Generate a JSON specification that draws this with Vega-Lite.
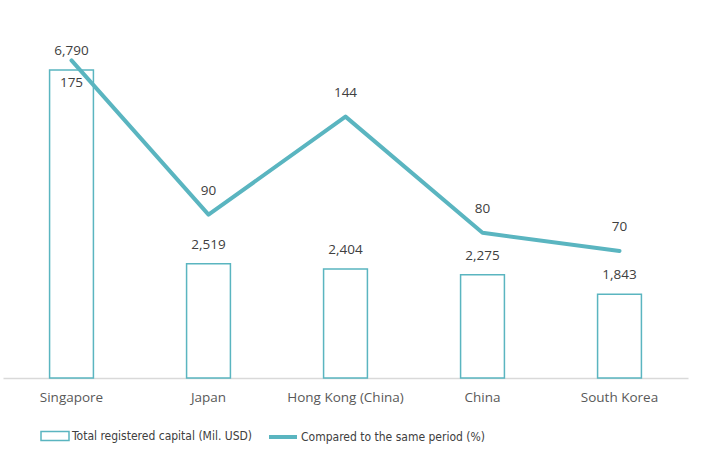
{
  "$schema": "https://vega.github.io/schema/vega-lite/v6.json",
  "width": 685,
  "height": 363,
  "autosize": {"type": "none"},
  "padding": {"left": 3, "top": 15, "right": 13, "bottom": 72},
  "background": "white",
  "config": {
    "view": {"stroke": null},
    "font": "Open Sans",
    "text": {"font": "Open Sans", "fontSize": 13.5, "fill": "#404040"}
  },
  "data": {
    "values": [
      {"country": "Singapore", "capital": 6790, "pct": 175},
      {"country": "Japan", "capital": 2519, "pct": 90},
      {"country": "Hong Kong (China)", "capital": 2404, "pct": 144},
      {"country": "China", "capital": 2275, "pct": 80},
      {"country": "South Korea", "capital": 1843, "pct": 70}
    ]
  },
  "encoding": {
    "x": {
      "field": "country",
      "type": "nominal",
      "sort": null,
      "scale": {"paddingInner": 0.68, "paddingOuter": 0.34},
      "axis": {
        "title": null,
        "labelAngle": 0,
        "ticks": false,
        "domainColor": "#d9d9d9",
        "domainWidth": 1.5,
        "labelColor": "#595959",
        "labelFont": "Open Sans",
        "labelFontSize": 13.5,
        "labelPadding": 12
      }
    }
  },
  "layer": [
    {
      "mark": {"type": "bar", "stroke": "#5ab5c0", "strokeWidth": 1.5},
      "encoding": {
        "y": {"field": "capital", "type": "quantitative", "scale": {"domain": [0, 8000]}, "axis": null},
        "fill": {
          "datum": "Total registered capital (Mil. USD)",
          "scale": {"range": ["white"]},
          "legend": {
            "title": null,
            "orient": "none",
            "legendX": 37,
            "legendY": 406,
            "symbolType": "M-1,-0.32H1V0.32H-1Z",
            "symbolSize": 784,
            "symbolStrokeColor": "#5ab5c0",
            "symbolStrokeWidth": 1.5,
            "labelFont": "DejaVu Sans Condensed",
            "labelFontSize": 12,
            "labelColor": "#404040",
            "labelOffset": 2,
            "labelLimit": 400
          }
        }
      }
    },
    {
      "mark": {"type": "text", "baseline": "middle", "dy": -19},
      "encoding": {
        "y": {"field": "capital", "type": "quantitative", "scale": {"domain": [0, 8000]}, "axis": null},
        "text": {"field": "capital", "type": "quantitative", "format": ","}
      }
    },
    {
      "layer": [
        {
          "mark": {"type": "line", "strokeWidth": 4, "strokeCap": "round", "strokeJoin": "round"},
          "encoding": {
            "y": {"field": "pct", "type": "quantitative", "scale": {"domain": [0, 200]}, "axis": null},
            "stroke": {
              "datum": "Compared to the same period (%)",
              "scale": {"range": ["#5ab5c0"]},
              "legend": {
                "title": null,
                "orient": "none",
                "legendX": 264,
                "legendY": 406,
                "symbolType": "stroke",
                "symbolSize": 784,
                "symbolStrokeWidth": 4,
                "labelFont": "DejaVu Sans Condensed",
                "labelFontSize": 12,
                "labelColor": "#404040",
                "labelOffset": 2,
                "labelLimit": 400
              }
            }
          }
        },
        {
          "transform": [{"filter": "datum.country !== 'Singapore'"}],
          "mark": {"type": "text", "baseline": "middle", "dy": -24},
          "encoding": {
            "y": {"field": "pct", "type": "quantitative", "scale": {"domain": [0, 200]}, "axis": null},
            "text": {"field": "pct", "type": "quantitative"}
          }
        },
        {
          "transform": [{"filter": "datum.country === 'Singapore'"}],
          "mark": {"type": "text", "baseline": "middle", "dy": 23},
          "encoding": {
            "y": {"field": "pct", "type": "quantitative", "scale": {"domain": [0, 200]}, "axis": null},
            "text": {"field": "pct", "type": "quantitative"}
          }
        }
      ],
      "resolve": {"scale": {"y": "shared"}}
    }
  ],
  "resolve": {"scale": {"y": "independent"}}
}
